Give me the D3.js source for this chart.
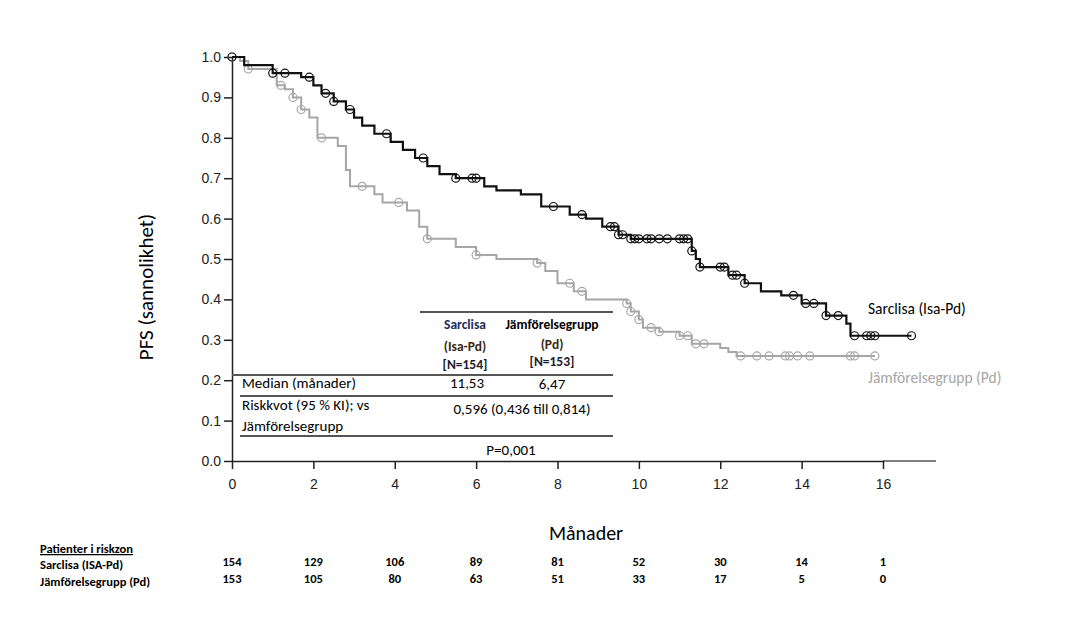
<!DOCTYPE html>
<html><head><meta charset="utf-8">
<script src="https://cdn.jsdelivr.net/npm/d3@7"></script>
<style>body{margin:0;background:#fff;font-family:Carlito,"Open Sans","Liberation Sans",sans-serif}</style>
</head><body><div id="chart"></div>
<script>
// step points: [month, survival]
const isaSteps = [[0,1],[0.3,0.98],[1.0,0.96],[1.7,0.95],[2.0,0.93],[2.2,0.91],[2.5,0.89],[2.8,0.87],[3.0,0.85],[3.2,0.83],[3.5,0.81],[3.9,0.79],[4.2,0.77],[4.5,0.75],[4.8,0.73],[5.1,0.71],[5.5,0.70],[6.2,0.68],[6.5,0.67],[7.1,0.66],[7.6,0.63],[8.3,0.61],[8.7,0.60],[9.1,0.58],[9.5,0.56],[9.8,0.55],[11.3,0.52],[11.4,0.50],[11.5,0.48],[12.2,0.46],[12.6,0.44],[13.0,0.42],[13.5,0.41],[14.0,0.39],[14.6,0.36],[15.1,0.34],[15.2,0.31],[16.7,0.31]];
const pdSteps = [[0,1],[0.2,0.99],[0.4,0.97],[1.1,0.93],[1.3,0.92],[1.5,0.90],[1.7,0.87],[1.9,0.85],[2.1,0.80],[2.6,0.78],[2.8,0.72],[2.9,0.68],[3.5,0.66],[3.7,0.64],[4.3,0.62],[4.6,0.58],[4.8,0.55],[5.5,0.53],[6.0,0.51],[6.5,0.50],[7.5,0.49],[7.7,0.47],[8.0,0.44],[8.4,0.42],[8.7,0.40],[9.7,0.39],[9.8,0.37],[10.0,0.35],[10.1,0.33],[10.5,0.32],[11.0,0.31],[11.3,0.29],[12.0,0.28],[12.2,0.27],[12.4,0.26],[15.8,0.26]];
const isaCensor = [0,1.0,1.3,1.9,2.3,2.5,2.9,3.8,4.7,5.5,5.9,6.0,7.9,8.6,9.3,9.4,9.5,9.6,9.8,9.9,10.0,10.2,10.3,10.5,10.7,11.0,11.1,11.2,11.3,11.5,12.0,12.1,12.3,12.4,12.6,13.8,14.1,14.3,14.6,14.9,15.3,15.6,15.7,15.8,16.7];
const pdCensor = [0,0.4,1.2,1.5,1.7,2.2,3.2,4.1,4.8,6.0,7.5,8.3,8.6,9.7,9.8,10.0,10.3,10.5,11.0,11.2,11.4,11.6,12.5,12.9,13.2,13.6,13.7,13.9,14.2,15.2,15.3,15.8];
const xTicks = [0,2,4,6,8,10,12,14,16];
const yTicks = [0,0.1,0.2,0.3,0.4,0.5,0.6,0.7,0.8,0.9,1.0];
const riskIsa = [154,129,106,89,81,52,30,14,1];
const riskPd = [153,105,80,63,51,33,17,5,0];

const W=1066,H=625;
const svg=d3.select("#chart").append("svg").attr("width",W).attr("height",H);
const x=d3.scaleLinear().domain([0,16]).range([232,883]);
const y=d3.scaleLinear().domain([0,1]).range([461,57]);

// axes
svg.append("g").attr("transform","translate(232,0)")
  .call(d3.axisLeft(y).tickValues(yTicks).tickFormat(d3.format(".1f")).tickSize(8).tickSizeOuter(0))
  .call(g=>g.selectAll("text").attr("font-size",14).attr("font-family","Liberation Sans,Arial").attr("fill","#222"));
svg.append("g").attr("transform","translate(0,461)")
  .call(d3.axisBottom(x).tickValues(xTicks).tickSize(8).tickSizeOuter(0))
  .call(g=>g.selectAll("text").attr("font-size",14).attr("dy","1.2em").attr("font-family","Liberation Sans,Arial").attr("fill","#222"));
svg.append("line").attr("x1",x(16)).attr("x2",936).attr("y1",461).attr("y2",461).attr("stroke","#000");
svg.selectAll(".domain,.tick line").attr("stroke","#222").attr("stroke-width",1.5);

const line=d3.line().x(d=>x(d[0])).y(d=>y(d[1])).curve(d3.curveStepAfter);
function stepVal(steps,t){let v=steps[0][1];for(const s of steps){if(s[0]<=t)v=s[1];}return v;}

function series(steps,cens,col,w){
  svg.append("path").datum(steps).attr("d",line).attr("fill","none").attr("stroke",col).attr("stroke-width",w);
  svg.append("g").selectAll("circle").data(cens).join("circle")
    .attr("cx",d=>x(d)).attr("cy",d=>y(stepVal(steps,d))).attr("r",4)
    .attr("fill","none").attr("stroke",col).attr("stroke-width",1.2);
}
series(pdSteps,pdCensor,"#a6a6a6",2);
series(isaSteps,isaCensor,"#111",2.2);

// labels
svg.append("text").attr("transform","translate(153,287) rotate(-90)").attr("text-anchor","middle")
  .attr("font-size",21).text("PFS (sannolikhet)");
svg.append("text").attr("x",586).attr("y",540).attr("text-anchor","middle").attr("font-size",20).text("Månader");
svg.append("text").attr("x",868).attr("y",314).attr("font-size",15.5).text("Sarclisa (Isa-Pd)");
svg.append("text").attr("x",868).attr("y",383).attr("font-size",15.5).attr("fill","#a6a6a6").text("Jämförelsegrupp (Pd)");

// inset table
const tl=[[420,613,312],[232,613,375],[240,613,396],[240,613,436]];
svg.append("g").selectAll("line").data(tl).join("line")
  .attr("x1",d=>d[0]).attr("x2",d=>d[1]).attr("y1",d=>d[2]).attr("y2",d=>d[2]).attr("stroke","#555").attr("stroke-width",2);
const tt=[
 [465,329,"Sarclisa",true,"#1f2d5a"],[552,329,"Jämförelsegrupp",true,"#000"],
 [465,351,"(Isa-Pd)",true,"#3a2a10"],[552,349,"(Pd)",true,"#3a2a10"],
 [465,369,"[N=154]",true,"#1a2030"],[552,366,"[N=153]",true,"#1a2030"],
 [242,388,"Median  (månader)",false,"#000","start"],[467,388,"11,53",false],[552,389,"6,47",false],
 [242,410,"Riskkvot (95 % KI); vs",false,"#000","start"],[522,414,"0,596 (0,436 till 0,814)",false],
 [242,431,"Jämförelsegrupp",false,"#000","start"],[511,455,"P=0,001",false]];
svg.append("g").selectAll("text").data(tt).join("text")
  .attr("x",d=>d[0]).attr("y",d=>d[1]).attr("text-anchor",d=>d[5]||"middle")
  .attr("font-size",d=>d[3]?13.5:15).attr("font-weight",d=>d[3]?"bold":"normal")
  .attr("fill",d=>d[4]||"#000").text(d=>d[2]);

// risk table
const rt=svg.append("g").attr("font-size",12.5).attr("font-weight","bold");
rt.append("text").attr("x",40).attr("y",553).attr("text-decoration","underline").text("Patienter i riskzon");
rt.append("text").attr("x",40).attr("y",569).text("Sarclisa (ISA-Pd)");
rt.append("text").attr("x",40).attr("y",586).text("Jämförelsegrupp (Pd)");
rt.append("g").selectAll("text").data(riskIsa).join("text").attr("x",(d,i)=>x(xTicks[i])).attr("y",566).attr("text-anchor","middle").text(d=>d);
rt.append("g").selectAll("text").data(riskPd).join("text").attr("x",(d,i)=>x(xTicks[i])).attr("y",583).attr("text-anchor","middle").text(d=>d);
</script></body></html>
